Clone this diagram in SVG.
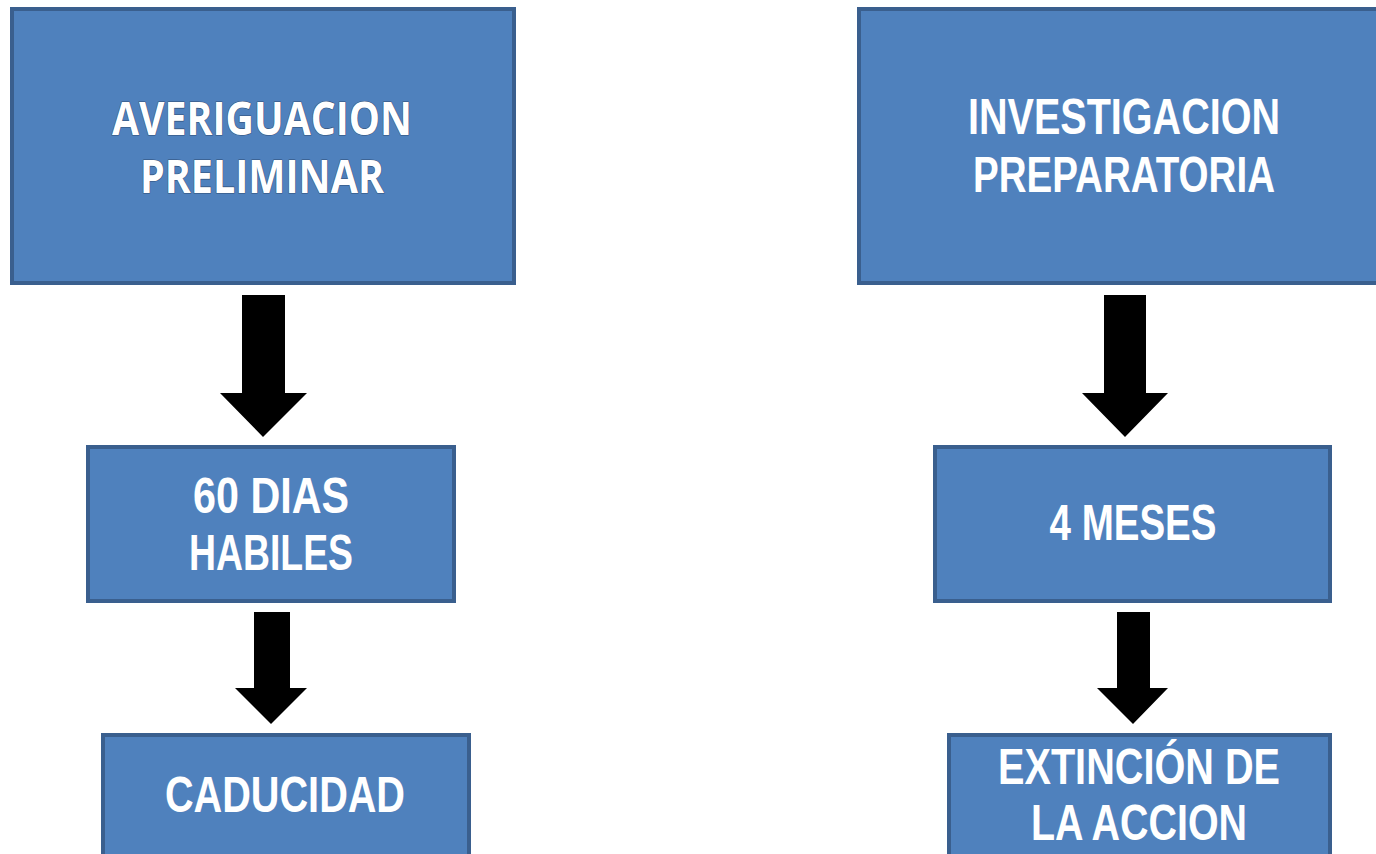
<svg xmlns="http://www.w3.org/2000/svg" width="1376" height="854" viewBox="0 0 1376 854">
<style>
.box{fill:#4f81bd;stroke:#3a5f8e;stroke-width:4}
.t{fill:#fff;font-family:"Liberation Sans Narrow","Liberation Sans",Arial,sans-serif;font-weight:bold;font-size:50px;text-anchor:middle}
.r{fill:#fff;font-family:"Open Sans","Liberation Sans",sans-serif;font-weight:bold;font-size:46px;text-anchor:middle;stroke:#2f4f77;stroke-width:1.2;paint-order:stroke;stroke-linejoin:round}
.arr{fill:#000}
</style>
<rect width="1376" height="854" fill="#fff"/>
<g id="connectors">
<polygon class="arr" points="242,295 285,295 285,393 307,393 263,437 220,393 242,393"/>
<polygon class="arr" points="254,612 290,612 290,688 307,688 271,724 235,688 254,688"/>
<polygon class="arr" points="1104,295 1146,295 1146,393 1168,393 1125,437 1082,393 1104,393"/>
<polygon class="arr" points="1117,612 1150,612 1150,688 1168,688 1133,724 1097,688 1117,688"/>
</g>
<g id="averiguacion">
<rect class="box" x="12" y="9" width="502" height="274"/>
<text class="r" x="262" y="135" textLength="300" lengthAdjust="spacingAndGlyphs">AVERIGUACION</text>
<text class="r" x="262" y="193" textLength="244" lengthAdjust="spacingAndGlyphs">PRELIMINAR</text>
</g>
<g id="dias">
<rect class="box" x="88" y="447" width="366" height="154"/>
<text class="t" x="271" y="513" textLength="156" lengthAdjust="spacingAndGlyphs">60 DIAS</text>
<text class="t" x="271" y="570" textLength="164" lengthAdjust="spacingAndGlyphs">HABILES</text>
</g>
<g id="caducidad">
<rect class="box" x="103" y="735" width="366" height="140"/>
<text class="t" x="285" y="812" textLength="240" lengthAdjust="spacingAndGlyphs">CADUCIDAD</text>
</g>
<g id="investigacion">
<rect class="box" x="859" y="9" width="530" height="274"/>
<text class="t" x="1124" y="134" textLength="312" lengthAdjust="spacingAndGlyphs">INVESTIGACION</text>
<text class="t" x="1124" y="192" textLength="302" lengthAdjust="spacingAndGlyphs">PREPARATORIA</text>
</g>
<g id="meses">
<rect class="box" x="935" y="447" width="395" height="154"/>
<text class="t" x="1133" y="540" textLength="167" lengthAdjust="spacingAndGlyphs">4 MESES</text>
</g>
<g id="extincion">
<rect class="box" x="949" y="735" width="381" height="140"/>
<text class="t" x="1139" y="784" textLength="282" lengthAdjust="spacingAndGlyphs">EXTINCIÓN DE</text>
<text class="t" x="1139" y="840" textLength="216" lengthAdjust="spacingAndGlyphs">LA ACCION</text>
</g>
</svg>
